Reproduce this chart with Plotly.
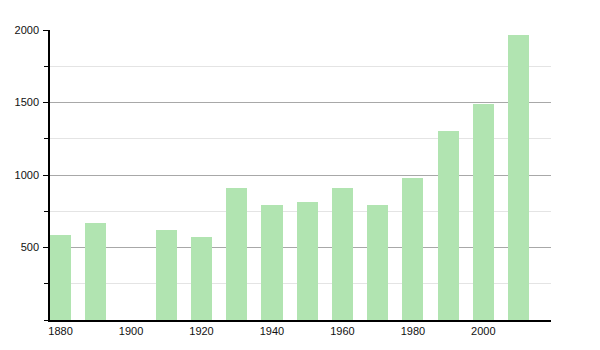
import plotly.graph_objects as go

years = [1880, 1890, 1910, 1920, 1930, 1940, 1950, 1960, 1970, 1980, 1990, 2000, 2010]
population = [587, 670, 621, 573, 911, 794, 815, 911, 794, 980, 1305, 1493, 1963]
x_ticks = [1880, 1900, 1920, 1940, 1960, 1980, 2000]
y_ticks = [500, 1000, 1500, 2000]

fig = go.Figure()
fig.add_trace(go.Bar(
    x=years, y=population, width=6,
    marker=dict(color="#b1e4b1", line=dict(width=0)),
))

fig.update_layout(
    width=600, height=350,
    margin=dict(l=50, r=49, t=30, b=30),
    paper_bgcolor="white", plot_bgcolor="white",
    showlegend=False,
    font=dict(family="Liberation Sans, Arial, sans-serif", size=11, color="#111111"),
    bargap=0,
)
fig.update_xaxes(
    range=[1877, 2019.2],
    tickvals=x_ticks, ticktext=[str(v) for v in x_ticks],
    showgrid=False, zeroline=False,
    showline=True, linecolor="black", linewidth=1.5,
    ticks="", ticklabelstandoff=0,
)
fig.update_yaxes(
    range=[0, 2000],
    tickvals=y_ticks, ticktext=[str(v) for v in y_ticks],
    showgrid=True, gridcolor="#a8a8a8", gridwidth=1,
    zeroline=False,
    showline=True, linecolor="black", linewidth=1.5,
    ticks="outside", ticklen=5, tickcolor="black", tickwidth=1,
    ticklabelstandoff=2,
    minor=dict(dtick=250, tick0=0, showgrid=True, gridcolor="#e4e4e4", gridwidth=1,
               ticks="outside", ticklen=4, tickcolor="black"),
)

fig.write_html("out.html")
